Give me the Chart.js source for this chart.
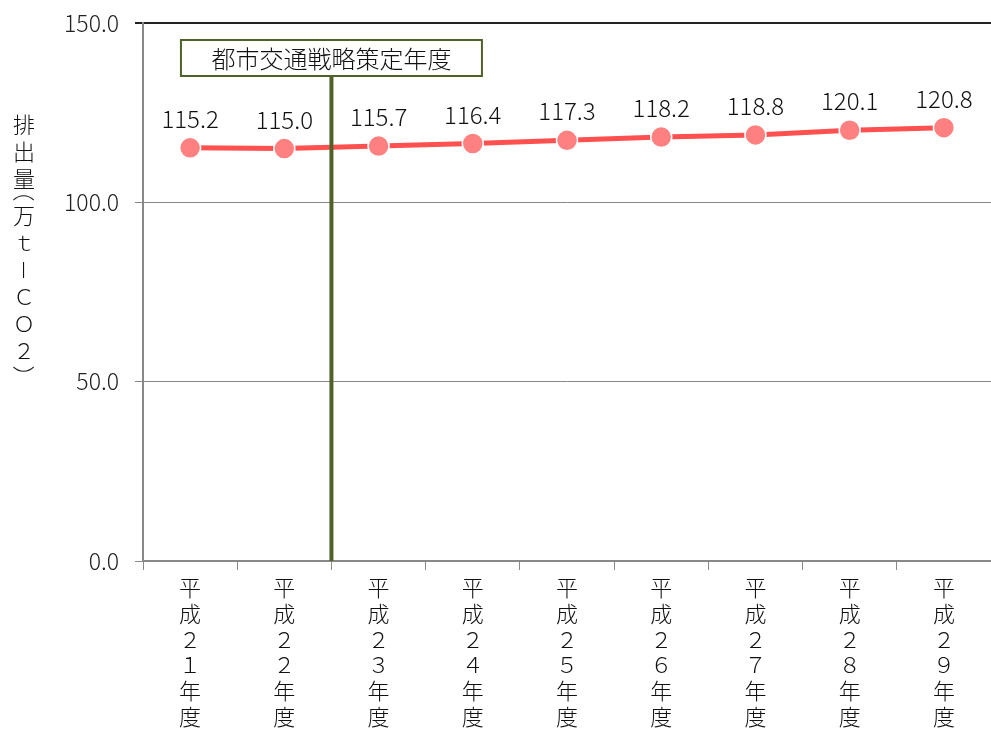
<!DOCTYPE html>
<html>
<head>
<meta charset="utf-8">
<script src="https://cdn.jsdelivr.net/npm/chart.js@4/dist/chart.umd.min.js"></script>
<style>
  html, body { margin: 0; padding: 0; background: #fff; }
  #wrap { width: 991px; height: 730px; }
</style>
</head>
<body>
<div id="wrap"><canvas id="grafico" width="991" height="730"></canvas></div>
<script>
// datos
const nendo = ['平成２１年度', '平成２２年度', '平成２３年度', '平成２４年度', '平成２５年度',
               '平成２６年度', '平成２７年度', '平成２８年度', '平成２９年度'];
const haishutsu = [115.2, 115.0, 115.7, 116.4, 117.3, 118.2, 118.8, 120.1, 120.8];
const yTicks = [0, 50, 100, 150];
const yTitulo = '排出量（万ｔ－ＣＯ２）';
const marcaTexto = '都市交通戦略策定年度';
const marcaIndice = 2; // línea entre 平成22 y 平成23

const fuente = '"Noto Sans CJK JP", "Noto Sans", sans-serif';

// etiquetas verticales (un carácter por línea)
const etiquetas = nendo.map(s => s.split(''));

// plugin: título vertical, línea de estrategia y etiquetas de datos
const extras = {
  id: 'extras',
  afterDatasetsDraw(chart) {
    const ctx = chart.ctx;
    const x = chart.scales.x;
    const area = chart.chartArea;

    // línea vertical
    const lx = (x.getPixelForValue(marcaIndice - 1) + x.getPixelForValue(marcaIndice)) / 2;
    ctx.save();
    ctx.strokeStyle = '#4F6228';
    ctx.lineWidth = 4;
    ctx.beginPath();
    ctx.moveTo(lx, 70);
    ctx.lineTo(lx, area.bottom);
    ctx.stroke();

    // caja
    ctx.font = '300 24px ' + fuente;
    const w = 301, h = 36;
    ctx.fillStyle = '#fff';
    ctx.fillRect(lx - w / 2, 40, w, h);
    ctx.lineWidth = 2;
    ctx.strokeRect(lx - w / 2, 40, w, h);
    ctx.fillStyle = '#111';
    ctx.textAlign = 'center';
    ctx.textBaseline = 'middle';
    ctx.fillText(marcaTexto, lx, 59);

    // etiquetas de datos
    ctx.font = '300 24px ' + fuente;
    const meta = chart.getDatasetMeta(0);
    meta.data.forEach((p, i) => {
      ctx.fillText(haishutsu[i].toFixed(1), p.x, p.y - 29);
    });

    // título eje y vertical (escritura vertical: paréntesis girados)
    ctx.font = '300 22px ' + fuente;
    let yy = 125, prev = 27;
    yTitulo.split('').forEach((c, i) => {
      const paren = c === '（' || c === '）';
      const hh = paren ? 10 : 27;
      if (i > 0) yy += (prev + hh) / 2;
      prev = hh;
      if (paren || c === '－') {
        ctx.save();
        ctx.translate(24, yy);
        ctx.rotate(Math.PI / 2);
        const dx = c === '（' ? -7 : (c === '）' ? 7 : 0);
        ctx.fillText(c, dx, 0);
        ctx.restore();
      } else {
        ctx.fillText(c, 24, yy);
      }
    });
    ctx.restore();
  }
};

const ctx = document.getElementById('grafico').getContext('2d');
new Chart(ctx, {
  type: 'line',
  data: {
    labels: etiquetas,
    datasets: [{
      data: haishutsu,
      borderColor: '#FF5050',
      borderWidth: 5,
      pointBackgroundColor: '#FF8080',
      pointBorderColor: '#fff',
      pointBorderWidth: 1.5,
      pointRadius: 10.5,
      tension: 0,
      clip: false
    }]
  },
  options: {
    responsive: false,
    animation: false,
    layout: { autoPadding: false, padding: { top: 23, right: 0, left: 0, bottom: 0 } },
    plugins: { legend: { display: false }, tooltip: { enabled: false } },
    scales: {
      x: {
        offset: true,
        grid: { drawOnChartArea: false, drawTicks: true, tickLength: 9, color: '#888', offset: true },
        border: { color: '#888', width: 2 },
        ticks: {
          color: '#111',
          font: { family: fuente, size: 22, weight: 300, lineHeight: 1.17 },
          padding: 5,
          maxRotation: 0,
          autoSkip: false
        },
        afterFit(s) { s.height = 730 - 561; }
      },
      y: {
        min: 0,
        max: 150,
        afterBuildTicks(s) { s.ticks = yTicks.map(v => ({ value: v })); },
        grid: {
          color: c => c.tick && c.tick.value === 150 ? '#222' : '#888',
          lineWidth: c => c.tick && c.tick.value === 150 ? 2 : 1,
          tickLength: 8
        },
        border: { color: '#888', width: 2 },
        ticks: {
          color: '#222',
          font: { family: fuente, size: 23, weight: 300, lineHeight: 0.6 },
          padding: 16,
          callback: v => v.toFixed(1)
        },
        afterFit(s) { s.width = 143; }
      }
    }
  },
  plugins: [extras]
});
</script>
</body>
</html>
